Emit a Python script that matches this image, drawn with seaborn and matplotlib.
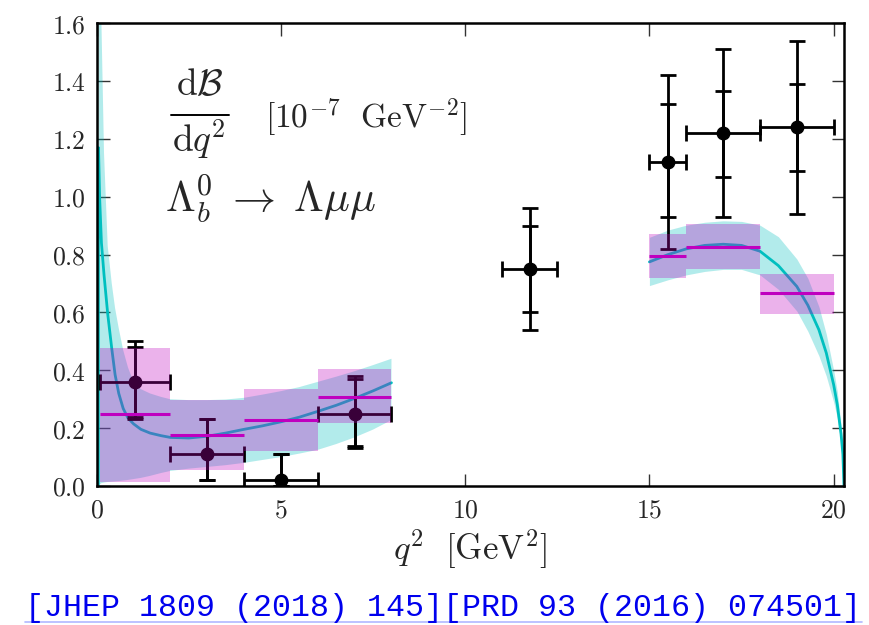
import numpy as np
import pandas as pd
import matplotlib
matplotlib.use("Agg")
import matplotlib.pyplot as plt
import seaborn as sns
from matplotlib.lines import Line2D
from matplotlib.ticker import FuncFormatter, FixedLocator

# ---------------- data ----------------
# SM prediction (low q2 region)
q2_low = [0.0447, 0.05, 0.08, 0.13, 0.2, 0.3, 0.41, 0.5, 0.6, 0.72, 0.85, 1.0, 1.2,
          1.45, 1.75, 2.0, 2.5, 3.0, 3.5, 4.0, 4.5, 5.0, 5.5, 6.0, 6.5, 7.0, 7.5, 8.0]
cen_low = [0.0, 1.17, 1.0, 0.84, 0.73, 0.595, 0.475, 0.385, 0.32, 0.268, 0.235, 0.215, 0.196,
           0.183, 0.174, 0.168, 0.166, 0.172, 0.183, 0.196, 0.208, 0.222, 0.238, 0.258, 0.279,
           0.303, 0.329, 0.357]
up_low = [0.0, 2.2, 1.9, 1.6, 1.15, 0.83, 0.70, 0.615, 0.545, 0.47, 0.41, 0.36, 0.335,
          0.32, 0.308, 0.30, 0.297, 0.297, 0.299, 0.305, 0.316, 0.328, 0.342, 0.36, 0.378,
          0.397, 0.418, 0.44]
dn_low = [0.0, 0.0, 0.005, 0.01, 0.012, 0.014, 0.015, 0.016, 0.017, 0.019, 0.021, 0.024, 0.028,
          0.035, 0.045, 0.052, 0.06, 0.066, 0.072, 0.08, 0.09, 0.10, 0.112, 0.125, 0.145,
          0.168, 0.195, 0.228]

# SM prediction (high q2 region)
q2_high = [15.0, 15.5, 16.0, 16.5, 17.0, 17.5, 18.0, 18.5, 19.0, 19.3, 19.6, 19.8, 20.0,
           20.1, 20.2, 20.25, 20.28]
cen_high = [0.775, 0.80, 0.82, 0.832, 0.836, 0.832, 0.812, 0.762, 0.69, 0.625, 0.54, 0.46,
            0.35, 0.28, 0.18, 0.11, 0.0]
up_high = [0.86, 0.885, 0.902, 0.912, 0.917, 0.915, 0.902, 0.862, 0.785, 0.718, 0.62, 0.525,
           0.40, 0.325, 0.21, 0.13, 0.0]
dn_high = [0.693, 0.713, 0.73, 0.742, 0.749, 0.749, 0.73, 0.68, 0.605, 0.535, 0.45, 0.38,
           0.29, 0.235, 0.15, 0.09, 0.0]

# binned SM predictions
th_lo = [0.1, 2.0, 4.0, 6.0, 15.0, 16.0, 18.0]
th_hi = [2.0, 4.0, 6.0, 8.0, 16.0, 18.0, 20.0]
th_val = [0.248, 0.178, 0.228, 0.309, 0.797, 0.827, 0.666]
th_min = [0.015, 0.055, 0.121, 0.217, 0.720, 0.751, 0.594]
th_max = [0.476, 0.297, 0.334, 0.404, 0.871, 0.905, 0.733]

# LHCb measurements
exp_x = [1.05, 3.0, 5.0, 7.0, 11.75, 15.5, 17.0, 19.0]
exp_xlo = [0.1, 2.0, 4.0, 6.0, 11.0, 15.0, 16.0, 18.0]
exp_xhi = [2.0, 4.0, 6.0, 8.0, 12.5, 16.0, 18.0, 20.0]
exp_y = [0.36, 0.11, 0.02, 0.25, 0.75, 1.12, 1.22, 1.24]
exp_in_up = [0.12, 0.12, 0.09, 0.12, 0.15, 0.20, 0.145, 0.15]
exp_in_dn = [0.12, 0.09, 0.02, 0.11, 0.15, 0.19, 0.15, 0.15]
exp_out_up = [0.14, 0.12, 0.09, 0.13, 0.21, 0.30, 0.29, 0.30]
exp_out_dn = [0.13, 0.09, 0.02, 0.12, 0.21, 0.30, 0.29, 0.30]

xticks = [0, 5, 10, 15, 20]
yticks = [0.0, 0.2, 0.4, 0.6, 0.8, 1.0, 1.2, 1.4, 1.6]

# ---------------- style ----------------
sns.set_style("ticks")
plt.rcParams["mathtext.fontset"] = "cm"
plt.rcParams["font.family"] = ["DejaVu Serif"]

fig = plt.figure(figsize=(8.7, 6.25), dpi=100)
ax = fig.add_axes([0.1111, 0.2224, 0.9701 - 0.1111, 0.9627 - 0.2224])

# theory bands
ax.fill_between(q2_low, dn_low, up_low, color="c", alpha=0.3, lw=0, zorder=1)
ax.fill_between(q2_high, dn_high, up_high, color="c", alpha=0.3, lw=0, zorder=1)

df_low = pd.DataFrame({"q2": q2_low, "dB": cen_low})
df_high = pd.DataFrame({"q2": q2_high, "dB": cen_high})
sns.lineplot(data=df_low, x="q2", y="dB", ax=ax, color="c", lw=2.0,
             estimator=None, sort=False, zorder=2)
sns.lineplot(data=df_high, x="q2", y="dB", ax=ax, color="c", lw=2.0,
             estimator=None, sort=False, zorder=2)

# experimental points
ex = np.array(exp_x)
xerr = [ex - np.array(exp_xlo), np.array(exp_xhi) - ex]
ax.errorbar(exp_x, exp_y, yerr=[exp_out_dn, exp_out_up], fmt="none", ecolor="k",
            elinewidth=2, capsize=6, capthick=2, zorder=3)
ax.errorbar(exp_x, exp_y, xerr=xerr, yerr=[exp_in_dn, exp_in_up], fmt="o", color="k",
            ms=9, elinewidth=2, capsize=6, capthick=2, zorder=3)

# binned predictions
for lo, hi, v, mn, mx in zip(th_lo, th_hi, th_val, th_min, th_max):
    ax.fill_between([lo, hi], [mn, mn], [mx, mx], color="m", alpha=0.3, lw=0, zorder=4)
    ax.plot([lo, hi], [v, v], color="m", lw=2.2, zorder=5, solid_capstyle="butt")

# axes
ax.set_xlim(0, 20.28)
ax.set_ylim(0, 1.6)
ax.xaxis.set_major_locator(FixedLocator(xticks))
ax.yaxis.set_major_locator(FixedLocator(yticks))
ax.xaxis.set_major_formatter(FuncFormatter(lambda v, p: r"$%d$" % v))
ax.yaxis.set_major_formatter(FuncFormatter(lambda v, p: r"$%.1f$" % v))
ax.tick_params(direction="in", length=9, width=1.0, color="#333333", labelsize=18.5,
               top=True, right=True, pad=8)
for s in ax.spines.values():
    s.set_linewidth(1.8)
    s.set_color("black")
    s.set_visible(True)
ax.set_xlabel(r"$q^2\ \ [\mathrm{GeV}^2]$", fontsize=25, labelpad=4)
ax.set_ylabel("")

# annotations (fraction built from numerator, bar and denominator)
ax.text(2.81, 1.352, r"$\mathrm{d}\mathcal{B}$", fontsize=27, ha="center", va="baseline")
ax.text(2.78, 1.155, r"$\mathrm{d}q^2$", fontsize=27, ha="center", va="baseline")
ax.plot([2.02, 3.59], [1.283, 1.283], color="k", lw=1.4, clip_on=False)
ax.text(4.57, 1.237, r"$[10^{-7}\ \ \mathrm{GeV}^{-2}]$", fontsize=24, ha="left",
        va="baseline")
ax.text(1.85, 0.947, r"$\Lambda_b^0\;\to\;\Lambda\mu\mu$", fontsize=31, ha="left",
        va="baseline")

# footer reference
fig.text(25 / 870, 1 - 608 / 625, "[JHEP 1809 (2018) 145][PRD 93 (2016) 074501]",
         fontsize=22.8, family="Liberation Mono", color="#0000ee", ha="left", va="center")
fig.add_artist(Line2D([25 / 870, 862 / 870], [1 - 622 / 625, 1 - 622 / 625],
                      color="#b0b8ff", lw=1.2, transform=fig.transFigure))

fig.savefig("out.png", dpi=100)
